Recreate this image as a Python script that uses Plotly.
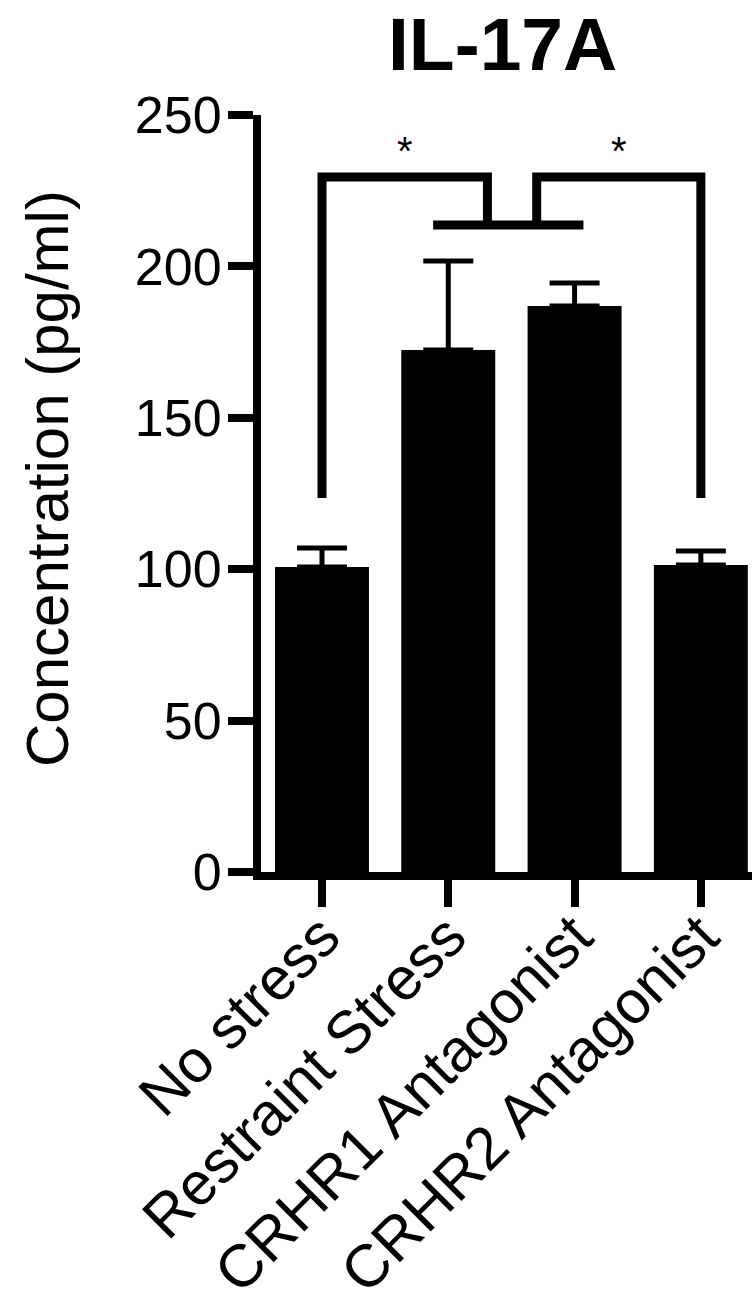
import plotly.graph_objects as go

categories = ["No stress", "Restraint Stress", "CRHR1 Antagonist", "CRHR2 Antagonist"]
means = [100.7, 172.4, 186.9, 101.4]
sem = [6.3, 29.4, 7.6, 4.6]
y_ticks = [0, 50, 100, 150, 200, 250]

# significance brackets (category index, value)
bracket_left_x = [0, 0, 1.31, 1.31]
bracket_left_y = [123.5, 229.5, 229.5, 213.7]
bracket_right_x = [3, 3, 1.70, 1.70]
bracket_right_y = [123.5, 229.5, 229.5, 213.7]
bracket_bottom_x = [0.88, 2.07]
bracket_bottom_y = [213.7, 213.7]
stars_x = [0.655, 2.35]
stars_y = [238, 238]

W, H = 752, 1307
# plot area in page pixels: left 261, right 752, top 115, bottom 872
L, T = 261, 115
B = H - 872
R = 0
FONT = "Liberation Sans, Arial, sans-serif"

plot_w = W - L - R
plot_h = H - T - B

def px(xp):  # page x -> paper
    return (xp - L) / plot_w

def py(yp):  # page y -> paper
    return (H - B - yp) / plot_h

fig = go.Figure()
fig.add_trace(go.Bar(
    x=categories, y=means, width=0.744,
    marker=dict(color="black", line=dict(width=0)),
    error_y=dict(type="data", array=sem, arrayminus=[0] * 4, symmetric=False,
                 color="black", thickness=5, width=25),
))

def path(xs, ys):
    return "M " + " L ".join(f"{x},{y}" for x, y in zip(xs, ys))

for xs, ys in [(bracket_left_x, bracket_left_y), (bracket_right_x, bracket_right_y),
               (bracket_bottom_x, bracket_bottom_y)]:
    fig.add_shape(type="path", path=path(xs, ys), xref="x", yref="y",
                  line=dict(color="black", width=9))

for sx, sy in zip(stars_x, stars_y):
    fig.add_annotation(x=sx, y=sy, xref="x", yref="y", text="*", showarrow=False,
                       font=dict(family=FONT, size=40, color="black"),
                       xanchor="center", yanchor="middle")

fig.add_annotation(x=px(502), y=py(0), xref="paper", yref="paper",
                   text="<b>IL-17A</b>", showarrow=False,
                   font=dict(family=FONT, size=75, color="black"),
                   xanchor="center", yanchor="top")
fig.add_annotation(x=px(47), y=py(479), xref="paper", yref="paper",
                   text="Concentration (pg/ml)", showarrow=False, textangle=-90,
                   font=dict(family=FONT, size=60, color="black"),
                   xanchor="center", yanchor="middle")

fig.update_layout(
    width=W, height=H,
    margin=dict(l=L, r=R, t=T, b=B, pad=0, autoexpand=False),
    paper_bgcolor="white", plot_bgcolor="white",
    showlegend=False,
    xaxis=dict(type="category", range=[-0.483, 3.405], showline=True, linecolor="black",
               linewidth=8, ticks="outside", ticklen=27, tickwidth=8, tickcolor="black",
               tickangle=-45, tickfont=dict(family=FONT, size=60, color="black"),
               ticklabelstandoff=-30, automargin=False,
               showgrid=False, zeroline=False),
    yaxis=dict(range=[0, 250], tickvals=y_ticks, showline=True, linecolor="black",
               linewidth=8, ticks="outside", ticklen=25, tickwidth=8, tickcolor="black",
               tickfont=dict(family=FONT, size=52, color="black"), automargin=False,
               ticklabelstandoff=-4,
               showgrid=False, zeroline=False),
)

fig.write_html("out.html", config={"displayModeBar": False},
               post_script="document.body.style.margin='0';")
